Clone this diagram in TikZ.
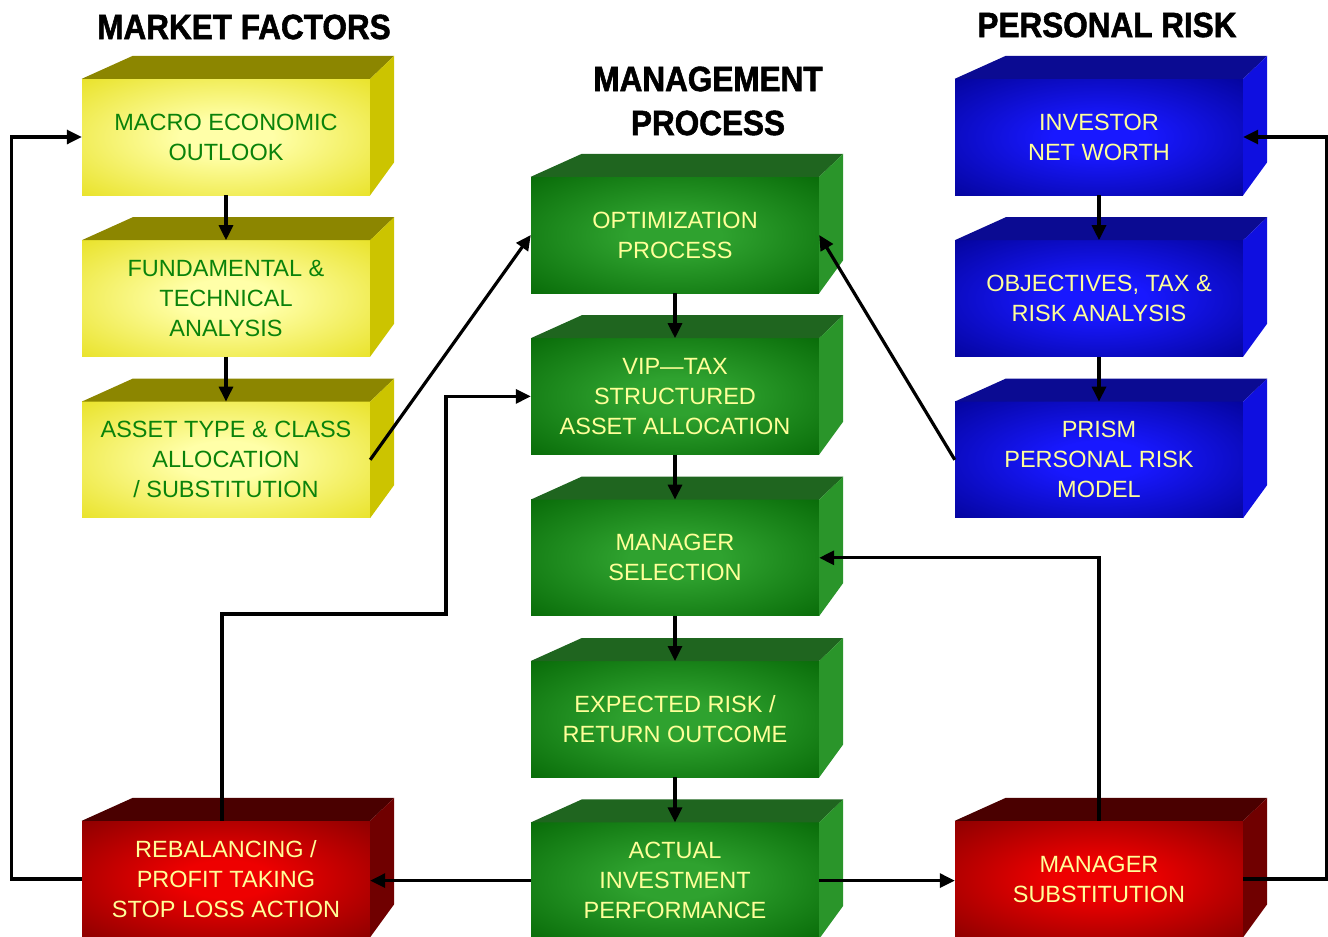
\documentclass[tikz,border=0pt]{standalone}
\usepackage{fontspec}
\setmainfont{Liberation Sans}
\newfontfamily\headfont[FakeStretch=0.9,FakeBold=1.6]{Liberation Sans}
\usetikzlibrary{arrows.meta,positioning}

\definecolor{yIn}{HTML}{FFFFA8}
\definecolor{yOut}{HTML}{E4DC0E}
\definecolor{yTop}{HTML}{8C8600}
\definecolor{ySide}{HTML}{CCC400}
\definecolor{yText}{HTML}{0A820A}
\definecolor{gIn}{HTML}{2FA22F}
\definecolor{gOut}{HTML}{006000}
\definecolor{gTop}{HTML}{1F651F}
\definecolor{gSide}{HTML}{2A952A}
\definecolor{bIn}{HTML}{1818FF}
\definecolor{bOut}{HTML}{000088}
\definecolor{bTop}{HTML}{0B0B92}
\definecolor{bSide}{HTML}{0F0FE0}
\definecolor{rIn}{HTML}{EE0000}
\definecolor{rOut}{HTML}{780000}
\definecolor{rTop}{HTML}{4A0000}
\definecolor{rSide}{HTML}{700000}
\definecolor{lightText}{HTML}{FFFF99}

\pgfdeclareradialshading{yglow}{\pgfpointorigin}{color(0bp)=(yIn); color(8bp)=(yIn); color(42bp)=(yOut); color(50bp)=(yOut)}
\pgfdeclareradialshading{gglow}{\pgfpointorigin}{color(0bp)=(gIn); color(8bp)=(gIn); color(42bp)=(gOut); color(50bp)=(gOut)}
\pgfdeclareradialshading{bglow}{\pgfpointorigin}{color(0bp)=(bIn); color(8bp)=(bIn); color(42bp)=(bOut); color(50bp)=(bOut)}
\pgfdeclareradialshading{rglow}{\pgfpointorigin}{color(0bp)=(rIn); color(8bp)=(rIn); color(42bp)=(rOut); color(50bp)=(rOut)}

\tikzset{
  box/.style  = {rectangle, minimum width=288pt, minimum height=116pt, inner sep=0pt, align=center, font=\fontsize{23.5}{30}\selectfont},
  market/.style   = {box, shade, shading=yglow, text=yText},
  process/.style  = {box, shade, shading=gglow, text=lightText},
  personal/.style = {box, shade, shading=bglow, text=lightText},
  action/.style   = {box, shade, shading=rglow, text=lightText},
  head/.style = {align=center, font=\headfont\bfseries\fontsize{35}{44}\selectfont},
  link/.style = {line width=3.2pt, -{Triangle[length=15pt,width=14pt]}}
}

\begin{document}
\begin{tikzpicture}[x=1pt,y=-1pt]
\useasboundingbox (0,0) rectangle (1328,937);

% headings
\node[head] (hmarket) at (244,27) {MARKET FACTORS};
\node[head] (hprocess) at (708,101) {MANAGEMENT\\PROCESS};
\node[head] (hpersonal) at (1107,25) {PERSONAL RISK};

% market factors, left column
\node[market] (macro) at (226,137) {MACRO ECONOMIC\\OUTLOOK};
\node[market, below=45pt of macro] (fund) {FUNDAMENTAL \&\\TECHNICAL\\ANALYSIS};
\node[market, below=45pt of fund] (asset) {ASSET TYPE \& CLASS\\ALLOCATION\\/ SUBSTITUTION};

% management process, middle column
\node[process] (opt) at (675,235) {OPTIMIZATION\\PROCESS};
\node[process, below=45pt of opt] (vip) {VIP---TAX\\STRUCTURED\\ASSET ALLOCATION};
\node[process, below=45pt of vip] (mgr) {MANAGER\\SELECTION};
\node[process, below=45pt of mgr] (expect) {EXPECTED RISK /\\RETURN OUTCOME};
\node[process, below=45pt of expect] (actual) {ACTUAL\\INVESTMENT\\PERFORMANCE};

% personal risk, right column
\node[personal] (inv) at (1099,137) {INVESTOR\\NET WORTH};
\node[personal, below=45pt of inv] (obj) {OBJECTIVES, TAX \&\\RISK ANALYSIS};
\node[personal, below=45pt of obj] (prism) {PRISM\\PERSONAL RISK\\MODEL};

% actions
\node[action] (rebal) at (226,879) {REBALANCING /\\PROFIT TAKING\\STOP LOSS ACTION};
\node[action] (msub) at (1099,879) {MANAGER\\SUBSTITUTION};

% top and side faces
\foreach \n/\c in {macro/y, fund/y, asset/y, opt/g, vip/g, mgr/g, expect/g, actual/g,
                   inv/b, obj/b, prism/b, rebal/r, msub/r} {
  \fill[\c Top] (\n.north west) -- ++(51,-23) -- ([shift={(24,-23)}]\n.north east) -- (\n.north east) -- cycle;
  \fill[\c Side] (\n.north east) -- ++(24,-23) -- ([shift={(24,-33)}]\n.south east) -- (\n.south east) -- cycle;
}

\coordinate (bend) at (446,614);

% connectors
\draw[link] (macro) -- (fund);
\draw[link] (fund) -- (asset);
\draw[link] (opt) -- (vip);
\draw[link] (vip) -- (mgr);
\draw[link] (mgr) -- (expect);
\draw[link] (expect) -- (actual);
\draw[link] (inv) -- (obj);
\draw[link] (obj) -- (prism);
\draw[link] (asset.east) -- (opt.west);
\draw[link] (prism.west) -- (opt.east);
\draw[link] (actual.west) -- (actual.west -| rebal.east);
\draw[link] (actual.east) -- (actual.east -| msub.west);
\draw[link] (rebal.west) -- ++(-70,0) |- (macro.west);
\draw[link] ([xshift=-4pt]rebal.north) |- (bend) |- (vip.west);
\draw[link] (msub.north) |- (mgr.east);
\draw[link] (msub.east) -- ++(83,0) |- (inv.east);

\end{tikzpicture}
\end{document}
